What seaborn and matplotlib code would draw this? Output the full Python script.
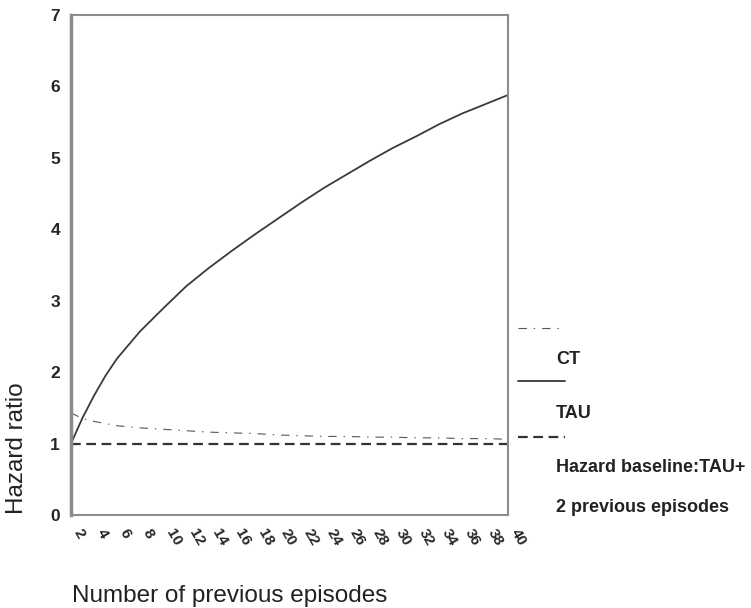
import matplotlib
matplotlib.use("Agg")
import matplotlib.pyplot as plt
from matplotlib.lines import Line2D
import seaborn as sns

# values
episodes = [2, 3, 4, 5, 6, 8, 10, 12, 14, 16, 18, 20, 22, 24, 26, 28, 30, 32, 34, 36, 38, 40]
tau = [1.00, 1.36, 1.67, 1.95, 2.19, 2.57, 2.89, 3.20, 3.46, 3.70, 3.93,
       4.15, 4.37, 4.58, 4.77, 4.96, 5.14, 5.30, 5.47, 5.62, 5.75, 5.88]
ct = [1.43, 1.35, 1.31, 1.28, 1.25, 1.22, 1.20, 1.18, 1.16, 1.15, 1.14,
      1.12, 1.11, 1.10, 1.10, 1.09, 1.09, 1.08, 1.08, 1.07, 1.07, 1.06]
baseline = [1.0] * len(episodes)
xticks = list(range(2, 41, 2))
yticks = list(range(0, 8))

sns.set_style("white")
plt.rcParams["font.family"] = ["Liberation Sans", "DejaVu Sans"]
plt.rcParams["lines.scale_dashes"] = False

W, H = 751, 608
fig = plt.figure(figsize=(W / 100, H / 100), dpi=100)
ax = fig.add_axes([71 / W, 1 - 515 / H, (508 - 71) / W, (515 - 15) / H])

dashdot = (0, (6, 5, 1, 5))
dashed = (0, (7, 4))

sns.lineplot(x=episodes, y=ct, ax=ax, color="#555555", linewidth=0.8, linestyle=dashdot)
sns.lineplot(x=episodes, y=tau, ax=ax, color="#3a3a3a", linewidth=1.3, linestyle="-")
sns.lineplot(x=episodes, y=baseline, ax=ax, color="#333333", linewidth=1.6, linestyle=dashed)

ax.set_xlim(2, 40)
ax.set_ylim(0, 7)
ax.set_xticks(xticks)
ax.set_yticks(yticks)
ax.set_yticklabels([str(v) for v in yticks], fontsize=12.5, fontweight="bold")
ax.set_xticklabels([str(v) for v in xticks], fontsize=11, fontweight="bold",
                   rotation=-60, ha="left", va="top")
ax.tick_params(axis="both", direction="out", length=4, width=1, color="#777777", pad=4)
ax.set_xlabel("")
ax.set_ylabel("")

for side in ["top", "right", "bottom"]:
    ax.spines[side].set_color("#8c8c8c")
    ax.spines[side].set_linewidth(1.5)
ax.spines["left"].set_color("#8c8c8c")
ax.spines["left"].set_linewidth(2.5)

fig.text(72 / W, 1 - 602 / H, "Number of previous episodes", fontsize=17.5,
         ha="left", va="baseline", color="#222222")
fig.text(17 / W, 1 - 448 / H, "Hazard ratio", fontsize=17.5, rotation=90,
         ha="center", va="center", color="#222222")

# legend drawn beside the axes, as in the original
samples = [(328, "#555555", 0.8, dashdot), (381, "#3a3a3a", 1.3, "-"), (437, "#333333", 1.6, dashed)]
for yy, col, lw, ls in samples:
    fig.add_artist(Line2D([518 / W, 565 / W], [1 - yy / H, 1 - yy / H], transform=fig.transFigure,
                          color=col, linewidth=lw, linestyle=ls))
labels = [(360, "CT"), (413, "TAU"), (467, "Hazard baseline:TAU+"), (507, "2 previous episodes")]
for yy, txt in labels:
    fig.text(556 / W, 1 - yy / H, txt, fontsize=13, fontweight="bold", ha="left", va="center",
             color="#222222")

fig.savefig("out.png", dpi=100)
